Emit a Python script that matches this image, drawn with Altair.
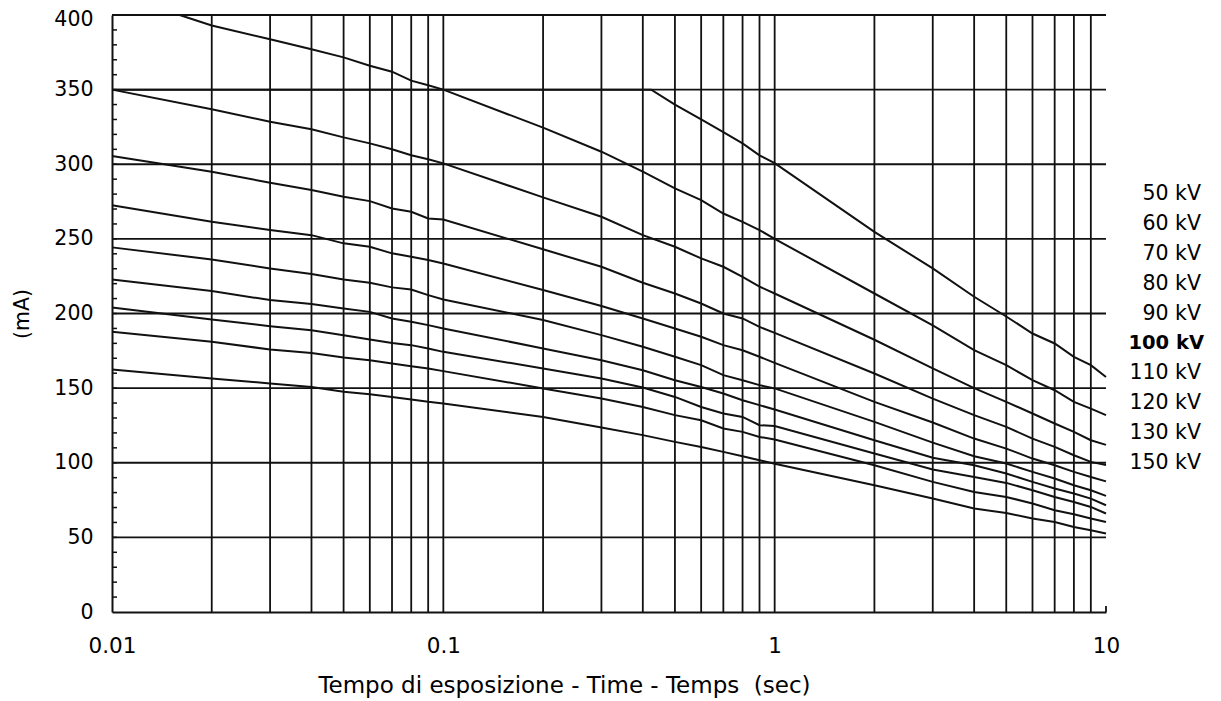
import altair as alt
import pandas as pd

FONT = "DejaVu Sans"

# common time grid (s)
T = [0.01, 0.02, 0.03, 0.04, 0.05, 0.06, 0.07, 0.08, 0.09,
     0.1, 0.2, 0.3, 0.4, 0.5, 0.6, 0.7, 0.8, 0.9,
     1, 2, 3, 4, 5, 6, 7, 8, 9, 10]

t_50 = [0.01, 0.424, 0.5, 0.6, 0.7, 0.8, 0.9, 1, 2, 3, 4, 5, 6, 7, 8, 9, 10]
ma_50 = [350, 350, 340, 330, 321.5, 314, 306, 300.7, 254.7, 230.2, 211.2, 198, 186.6, 179.9, 171, 165.4, 157.5]

t_60 = [0.01, 0.016] + T[1:]
ma_60 = [400, 400, 393, 383.7, 377, 371.6, 366, 362, 356, 352.9, 350, 324.5, 308.4, 295, 283.8, 276, 267,
         261.4, 255.9, 250, 213.4, 192, 175.4, 165.4, 155.3, 148.6, 140.8, 136.3, 131.9]

ma_70 = [350, 336.8, 328.5, 323.4, 318, 314, 310, 306, 303.3, 300.6, 277.8, 264.8, 252.5, 244.7, 236.9,
         231.3, 224.6, 218, 213.4, 182.4, 163.2, 150, 140.8, 133, 126.3, 120.7, 115.1, 112]
ma_80 = [305.5, 295, 287.6, 282.7, 278.2, 275.3, 270.4, 268.2, 263.7, 263, 243, 231.3, 220.6, 213.4, 206.7,
         200, 196.7, 191, 187, 159.8, 143, 131.9, 124, 116.2, 110.6, 105, 100.6, 98.5]
ma_90 = [272.6, 261.5, 255.9, 252.5, 247, 244.7, 240.3, 238, 235.8, 233.5, 215.7, 205, 196.7, 190, 184.4,
         178.8, 175.4, 171, 166.9, 140.8, 127, 116.2, 109.5, 102.8, 98.3, 93.9, 90.5, 87.5]
ma_100 = [244.3, 236.2, 230.2, 226.4, 222.8, 220.6, 217.5, 216.1, 212.3, 209.4, 195.6, 185.5, 177.7, 171,
          165.4, 158.7, 155.3, 152, 149.8, 127.4, 113.5, 104.4, 99.5, 93.9, 89.4, 84.9, 81.6, 77.8]
ma_110 = [222.8, 215, 209, 206.3, 203.4, 201.1, 196.7, 194.4, 192.2, 190, 176.6, 168.7, 162, 155.3, 150.8,
          146.4, 141.9, 138.6, 135.7, 115.1, 103.3, 98.3, 92.8, 87.2, 82.7, 79.4, 76, 71.5]
ma_120 = [204, 196, 191.5, 188.8, 185.5, 182.6, 180.3, 178.8, 176.6, 174.3, 163.2, 156.5, 150.4, 144.1,
          137.4, 133, 130.7, 125.2, 124.6, 106.2, 95.5, 90.5, 86.5, 81.6, 77.1, 73.7, 70.4, 66]
ma_130 = [187.7, 181, 175.9, 173.6, 170.5, 168.7, 166.5, 164.7, 163.2, 161.4, 149.8, 143, 137.4, 131.9,
          128.5, 123, 120.7, 117.3, 115.6, 98.3, 87.2, 80.4, 77.1, 72.7, 68.2, 65.5, 62.6, 60.3]
ma_150 = [162.5, 156.5, 153.1, 150.8, 147.5, 145.9, 144.1, 142.4, 140.8, 139.7, 130.7, 123.6, 118.5, 114,
          110.6, 107.3, 104.4, 101.7, 99.3, 84.9, 76, 69.3, 66.4, 62.6, 60.3, 57, 54.8, 52.6]

series = [
    ("50 kV", t_50, ma_50), ("60 kV", t_60, ma_60), ("70 kV", T, ma_70), ("80 kV", T, ma_80),
    ("90 kV", T, ma_90), ("100 kV", T, ma_100), ("110 kV", T, ma_110), ("120 kV", T, ma_120),
    ("130 kV", T, ma_130), ("150 kV", T, ma_150),
]

legend_labels = ["50 kV", "60 kV", "70 kV", "80 kV", "90 kV", "100 kV", "110 kV", "120 kV", "130 kV", "150 kV"]
legend_y = [280, 260, 240, 220, 200, 180, 160, 140, 120, 100]
legend_bold = ["100 kV"]

grid_x = [0.02, 0.03, 0.04, 0.05, 0.06, 0.07, 0.08, 0.09, 0.1,
          0.2, 0.3, 0.4, 0.5, 0.6, 0.7, 0.8, 0.9, 1,
          2, 3, 4, 5, 6, 7, 8, 9]
grid_y = [50, 100, 150, 200, 250, 300, 350, 400]
y_labels = [0, 50, 100, 150, 200, 250, 300, 350, 400]
minor_y = list(range(10, 400, 10))
x_labels = [0.01, 0.1, 1, 10]
end_tick = [10]

rows = []
for kv, ts, vals in series:
    for i, (t, v) in enumerate(zip(ts, vals)):
        rows.append({"kv": kv, "t": t, "mA": v, "o": i})
df = pd.DataFrame(rows)

W, H = 994, 597
xs = alt.Scale(type="log", domain=[0.01, 10])
ys = alt.Scale(domain=[0, 400])
INK = "#111111"

# identical axis definitions in every layer so the shared axes merge cleanly
AX = alt.Axis(values=x_labels, format="~g", grid=False, ticks=False, tickSize=0,
              domainColor=INK, domainWidth=2, labelFont=FONT, labelFontSize=21.5,
              labelColor="#000", labelPadding=23, labelFlush=False,
              title="Tempo di esposizione - Time - Temps \u00a0(sec)",
              titleFont=FONT, titleFontSize=23, titleFontWeight="normal", titleColor="#000",
              titleX=452, titleY=73, titleBaseline="middle", titleAlign="center")
AY = alt.Axis(values=y_labels, grid=False, ticks=False, tickSize=0,
              domainColor=INK, domainWidth=2, labelFont=FONT, labelFontSize=20.5,
              labelColor="#000", labelPadding=19, labelFlush=False,
              labelOffset={"condition": {"test": "datum.value >= 400", "value": 4.5}, "value": 0},
              title="(mA)", titleFont=FONT, titleFontSize=20.5, titleFontWeight="normal",
              titleColor="#000", titleX=-90, titleY=H / 2, titleAngle=270,
              titleBaseline="middle", titleAlign="center")

vgrid = alt.Chart(pd.DataFrame({"t": grid_x})).mark_rule(color=INK, strokeWidth=1.8).encode(
    x=alt.X("t:Q", scale=xs, axis=AX))
hgrid = alt.Chart(pd.DataFrame({"mA": grid_y})).mark_rule(color=INK, strokeWidth=1.8).encode(
    y=alt.Y("mA:Q", scale=ys, axis=AY))

lines = alt.Chart(df).mark_line(color=INK, strokeWidth=2).encode(
    x=alt.X("t:Q", scale=xs, axis=AX),
    y=alt.Y("mA:Q", scale=ys, axis=AY),
    detail="kv:N",
    order="o:Q",
)

minor = alt.Chart(pd.DataFrame({"mA": minor_y})).mark_rule(color=INK, strokeWidth=1.5).encode(
    y=alt.Y("mA:Q", scale=ys, axis=AY), x=alt.value(0), x2=alt.value(5))

endtick = alt.Chart(pd.DataFrame({"t": end_tick})).mark_rule(color=INK, strokeWidth=1.8).encode(
    x=alt.X("t:Q", scale=xs, axis=AX), y=alt.value(H), y2=alt.value(H - 6))

leg_df = pd.DataFrame({"label": legend_labels, "mA": legend_y,
                       "b": [lab in legend_bold for lab in legend_labels]})
leg_normal = alt.Chart(leg_df).transform_filter("!datum.b").mark_text(
    align="right", baseline="middle", font=FONT, fontSize=20.5, color="#000").encode(
    y=alt.Y("mA:Q", scale=ys, axis=AY), x=alt.value(W + 95), text="label:N")
leg_bold = alt.Chart(leg_df).transform_filter("datum.b").mark_text(
    align="right", baseline="middle", font=FONT, fontSize=19.5, fontWeight="bold", color="#000").encode(
    y=alt.Y("mA:Q", scale=ys, axis=AY), x=alt.value(W + 98), text="label:N")

chart = alt.layer(lines, vgrid, hgrid, minor, endtick, leg_normal, leg_bold).properties(
    width=W, height=H,
    padding={"left": 104, "top": 7, "right": 100, "bottom": 88},
    autosize=alt.AutoSizeParams(type="none"),
    background="white",
).configure_view(stroke=None)

chart.save("out.html", embed_options={"renderer": "svg", "actions": False})
